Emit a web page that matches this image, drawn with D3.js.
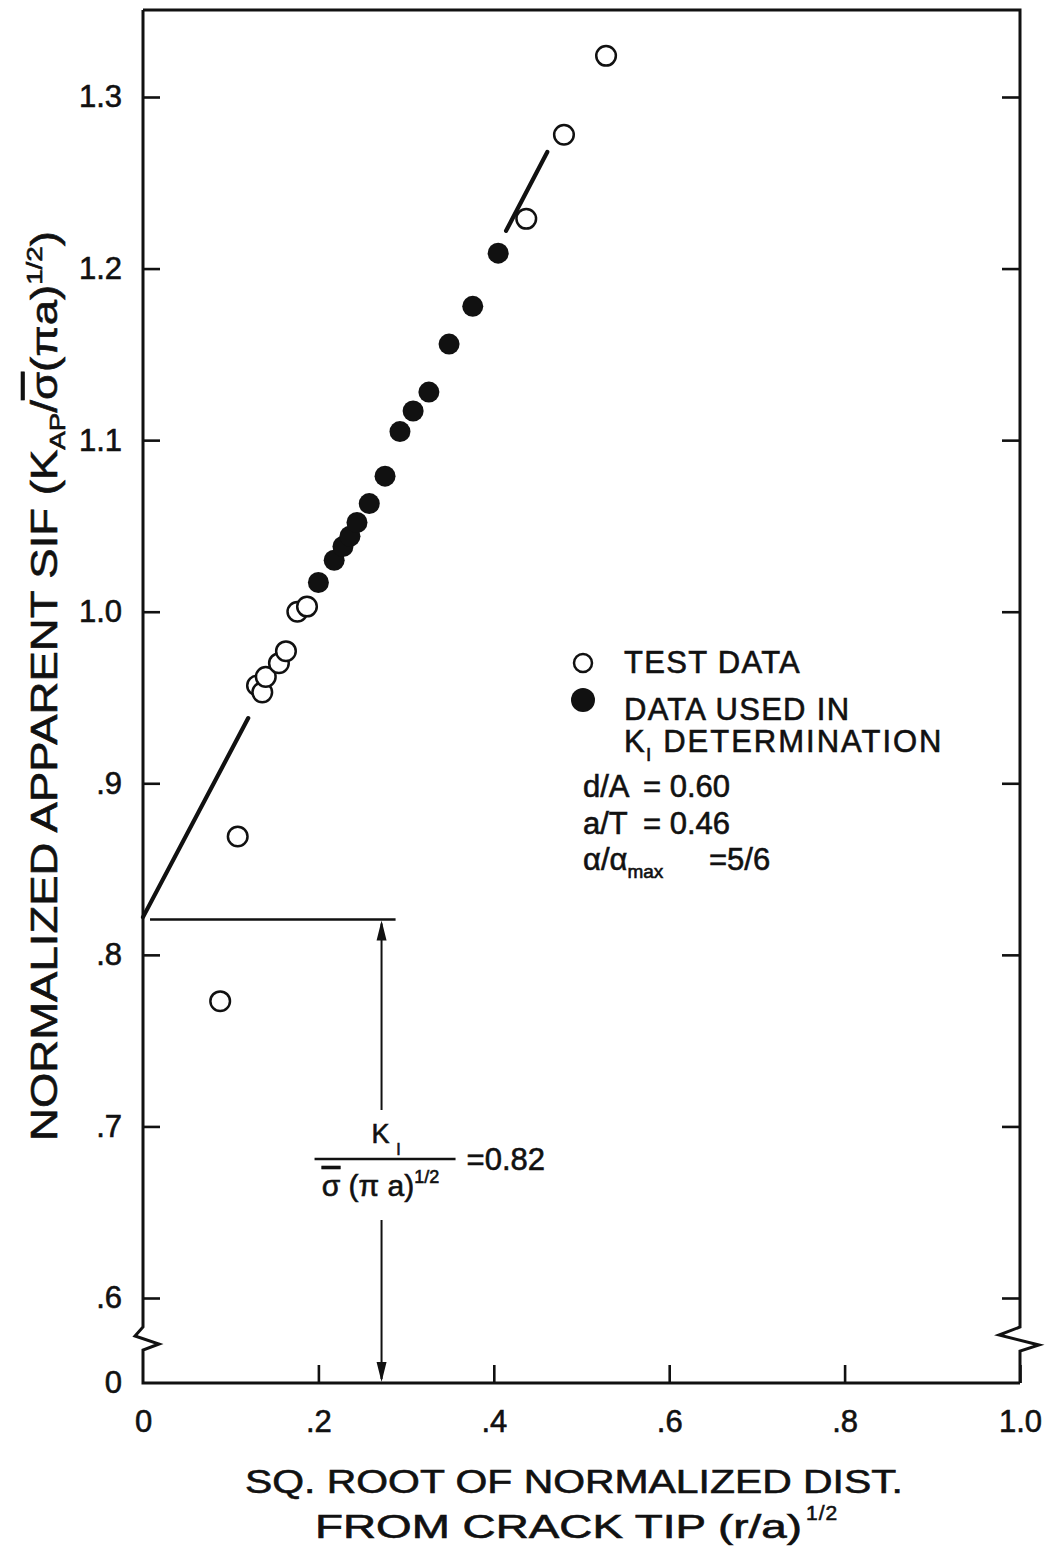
<!DOCTYPE html>
<html>
<head>
<meta charset="utf-8">
<script src="https://cdn.jsdelivr.net/npm/d3@7"></script>
<style>
    body { margin: 0; background: #fff; }
    svg { display: block; }
    text { font-family: "Liberation Sans", Arial, sans-serif; fill: #111;
           stroke: #111; stroke-width: 0.6px; }
    .tick text { font-family: "Liberation Sans Narrow", "Liberation Sans", sans-serif;
                 font-size: 31px; fill: #111; }
</style>
</head>
<body>
<script>
// ---------------------------------------------------------------------------
// Data: sq. root of normalized distance vs. apparent SIF
// ---------------------------------------------------------------------------
var testX = [0.088, 0.108, 0.130, 0.136, 0.140, 0.155, 0.163, 0.176, 0.187,
             0.437, 0.480, 0.528];
var testY = [0.773, 0.869, 0.957, 0.953, 0.962, 0.970, 0.977, 1.000, 1.003,
             1.229, 1.278, 1.324];

// points used for the K_I determination (filled)
var usedX = [0.200, 0.218, 0.228, 0.236, 0.244, 0.258, 0.276, 0.293, 0.308,
             0.326, 0.349, 0.376, 0.405];
var usedY = [1.017, 1.030, 1.038, 1.044, 1.052, 1.063, 1.079, 1.105, 1.117,
             1.128, 1.156, 1.178, 1.209];

// fitted line, drawn as two pieces
var fitLower = [[0.0, 0.822], [0.120, 0.938]];
var fitUpper = [[0.414, 1.222], [0.461, 1.268]];

// K_I intercept marker
var kValue = 0.82;
var kLineX = [0.008, 0.288];
var kArrowX = 0.272;

var xTicks = [0, 0.2, 0.4, 0.6, 0.8, 1.0];
var xTickLabels = ["0", ".2", ".4", ".6", ".8", "1.0"];
var yTicks = [0, 0.6, 0.7, 0.8, 0.9, 1.0, 1.1, 1.2, 1.3];
var yTickLabels = ["0", ".6", ".7", ".8", ".9", "1.0", "1.1", "1.2", "1.3"];

var params = [["d/A", "= 0.60"], ["a/T", "= 0.46"]];

// ---------------------------------------------------------------------------
var margin = {top: 10, right: 31, bottom: 170, left: 143},
    width = 1051 - margin.left - margin.right,
    height = 1553 - margin.top - margin.bottom;

var svg = d3.select("body").append("svg")
    .attr("width", 1051)
    .attr("height", 1553)
    .append("g")
    .attr("transform", "translate(" + margin.left + "," + margin.top + ")");

// broken y axis: 0 sits just under the .6 .. 1.3 range
var xScale = d3.scaleLinear().domain([0, 1]).range([0, width]);
var yScale = d3.scaleLinear().domain([0, 0.6, 1.3])
    .range([height, height - 85, 87]);

var ink = "#111";

// axes (ticks point inward)
var xAxis = d3.axisBottom(xScale).tickValues(xTicks).tickSize(-18)
    .tickPadding(27).tickFormat(function(d, i) { return xTickLabels[i]; });
var yAxis = d3.axisLeft(yScale).tickValues(yTicks).tickSize(-17)
    .tickPadding(21).tickFormat(function(d, i) { return yTickLabels[i]; });
var yAxisRight = d3.axisRight(yScale).tickValues(yTicks.slice(1))
    .tickSize(-18).tickFormat("");

svg.append("g").attr("transform", "translate(0," + height + ")")
    .call(xAxis);
svg.append("g").call(yAxis);
svg.append("g").attr("transform", "translate(" + width + ",0)")
    .call(yAxisRight);

svg.selectAll(".domain").remove();
svg.selectAll(".tick line").attr("stroke", ink).attr("stroke-width", 2.6);
svg.selectAll(".tick text").attr("fill", ink);
// no tick mark at 0 on the y axis, the corner is enough
svg.selectAll(".tick line").filter(function(d) { return d === 0; })
    .attr("stroke", "none");

// frame with zigzag breaks
var b0 = yScale(0.6) + 29;
var leftPath = [[0, 0], [0, b0], [-8, b0 + 9], [16, b0 + 17], [0, b0 + 23],
                [0, height], [width, height]];
var rightPath = [[0, 0], [width, 0], [width, b0], [width - 21, b0 + 8],
                 [width + 19, b0 + 18], [width, b0 + 24], [width, height]];
var line = d3.line();
svg.append("path").attr("d", line(leftPath)).attr("fill", "none")
    .attr("stroke", ink).attr("stroke-width", 3);
svg.append("path").attr("d", line(rightPath)).attr("fill", "none")
    .attr("stroke", ink).attr("stroke-width", 3);

// fit line
var fitLine = d3.line()
    .x(function(d) { return xScale(d[0]); })
    .y(function(d) { return yScale(d[1]); });
[fitLower, fitUpper].forEach(function(seg) {
    svg.append("path").attr("d", fitLine(seg))
        .attr("fill", "none").attr("stroke", ink)
        .attr("stroke-width", 4.2).attr("stroke-linecap", "round");
});

// K_I level and the double arrow
var ky = yScale(kValue) - 1;
svg.append("line")
    .attr("x1", xScale(kLineX[0])).attr("x2", xScale(kLineX[1]))
    .attr("y1", ky).attr("y2", ky)
    .attr("stroke", ink).attr("stroke-width", 2.6);

var ax = xScale(kArrowX);
svg.append("line").attr("x1", ax).attr("x2", ax)
    .attr("y1", ky + 4).attr("y2", 1100)
    .attr("stroke", ink).attr("stroke-width", 2);
svg.append("line").attr("x1", ax).attr("x2", ax)
    .attr("y1", 1210).attr("y2", height - 4)
    .attr("stroke", ink).attr("stroke-width", 2);
svg.append("path")
    .attr("d", "M" + ax + "," + (ky + 1) + "l-5,20l10,0z")
    .attr("fill", ink);
svg.append("path")
    .attr("d", "M" + ax + "," + (height - 1) + "l-5,-20l10,0z")
    .attr("fill", ink);

// K_I fraction label
var frac = svg.append("g").attr("transform", "translate(" + (ax + 3) + ",0)");
frac.append("text").attr("x", -4).attr("y", 1133)
    .attr("text-anchor", "middle").style("font-size", "27px")
    .text("K");
frac.append("text").attr("x", 14).attr("y", 1145)
    .attr("text-anchor", "middle").style("font-size", "16px")
    .text("I");
frac.append("line").attr("x1", -70).attr("x2", 71)
    .attr("y1", 1149).attr("y2", 1149)
    .attr("stroke", ink).attr("stroke-width", 2.4);
var den = frac.append("text").attr("x", -4).attr("y", 1186)
    .attr("text-anchor", "middle").style("font-size", "30px");
den.append("tspan").style("text-decoration", "overline").text("σ");
den.append("tspan").text(" (π a)");
den.append("tspan").attr("dy", -13).style("font-size", "18px").text("1/2");
frac.append("text").attr("x", 82).attr("y", 1160)
    .style("font-size", "31px").text("=0.82");

// data points
svg.selectAll(".used").data(usedX).enter().append("circle")
    .attr("class", "used")
    .attr("cx", function(d) { return xScale(d); })
    .attr("cy", function(d, i) { return yScale(usedY[i]); })
    .attr("r", 10.5).attr("fill", ink);
svg.selectAll(".test").data(testX).enter().append("circle")
    .attr("class", "test")
    .attr("cx", function(d) { return xScale(d); })
    .attr("cy", function(d, i) { return yScale(testY[i]); })
    .attr("r", 9.8).attr("fill", "#fff")
    .attr("stroke", ink).attr("stroke-width", 2.5);

// legend
var lg = svg.append("g").attr("transform", "translate(" + (583 - margin.left) +
    ",0)");
lg.append("circle").attr("cx", 0).attr("cy", 653).attr("r", 9)
    .attr("fill", "#fff").attr("stroke", ink).attr("stroke-width", 2.5);
lg.append("circle").attr("cx", 0).attr("cy", 690).attr("r", 12)
    .attr("fill", ink);
var lgText = [["TEST DATA", 663], ["DATA USED IN", 710]];
lgText.forEach(function(t) {
    lg.append("text").attr("x", 41).attr("y", t[1])
        .style("font-size", "31px").style("letter-spacing", "1.3px")
        .text(t[0]);
});
var kt = lg.append("text").attr("x", 41).attr("y", 742)
    .style("font-size", "31px").style("letter-spacing", "1.3px");
kt.append("tspan").text("K");
kt.append("tspan").attr("dy", 9).style("font-size", "19px").text("I");
kt.append("tspan").attr("dy", -9).style("letter-spacing", "2px")
    .text(" DETERMINATION");

params.forEach(function(p, i) {
    var t = lg.append("text").attr("y", 787 + i * 37)
        .style("font-size", "31px");
    t.append("tspan").attr("x", 0).text(p[0]);
    t.append("tspan").attr("x", 60).text(p[1]);
});
var at = lg.append("text").attr("y", 860).style("font-size", "31px");
at.append("tspan").attr("x", 0).text("α/α");
at.append("tspan").attr("dy", 8).style("font-size", "19px").text("max");
at.append("tspan").attr("x", 126).attr("dy", -8).text("=5/6");

// y axis title
var yt = svg.append("text")
    .attr("transform", "translate(" + (57 - margin.left) + ",676) rotate(-90)")
    .attr("text-anchor", "middle")
    .attr("textLength", 910).attr("lengthAdjust", "spacingAndGlyphs")
    .style("font-size", "36px");
yt.append("tspan").text("NORMALIZED APPARENT SIF (K");
yt.append("tspan").attr("dy", 8).style("font-size", "22px").text("AP");
yt.append("tspan").attr("dy", -8).text("/");
yt.append("tspan").style("text-decoration", "overline").text("σ");
yt.append("tspan").text("(πa)");
yt.append("tspan").attr("dy", -15).style("font-size", "22px").text("1/2");
yt.append("tspan").attr("dy", 15).text(")");

// x axis title
svg.append("text").attr("x", 574 - margin.left).attr("y", 1493 - margin.top)
    .attr("text-anchor", "middle")
    .attr("textLength", 658).attr("lengthAdjust", "spacingAndGlyphs")
    .style("font-size", "33px")
    .text("SQ. ROOT OF NORMALIZED DIST.");
svg.append("text").attr("x", 315 - margin.left).attr("y", 1538 - margin.top)
    .attr("textLength", 487).attr("lengthAdjust", "spacingAndGlyphs")
    .style("font-size", "33px")
    .text("FROM CRACK TIP (r/a)");
svg.append("text").attr("x", 806 - margin.left).attr("y", 1520 - margin.top)
    .style("font-size", "21px").style("letter-spacing", "1px")
    .text("1/2");
</script>
</body>
</html>
